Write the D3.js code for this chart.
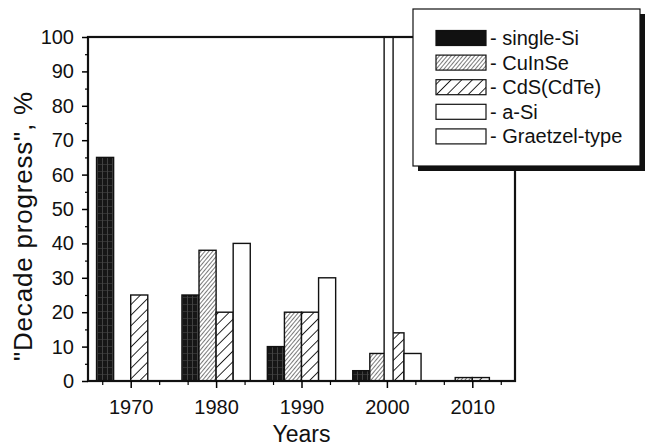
<!DOCTYPE html>
<html>
<head>
<meta charset="utf-8">
<script src="https://cdn.jsdelivr.net/npm/d3@7"></script>
<style>
  body { margin: 0; background: #fff; }
  svg { font-family: "Liberation Sans", Arial, sans-serif; }
</style>
</head>
<body>
<div id="chart"></div>
<script>
// values, one entry per decade
const decades = [1970, 1980, 1990, 2000, 2010];
const singleSi = [65, 25, 10, 3, 0];
const cuInSe = [0, 38, 20, 8, 1];
const cdS = [25, 20, 20, 14, 1];
const aSi = [0, 40, 30, 8, 0];
const graetzel = [0, 0, 0, 100, 0];
const seriesNames = ["single-Si", "CuInSe", "CdS(CdTe)", "a-Si", "Graetzel-type"];
const yTicks = [0, 10, 20, 30, 40, 50, 60, 70, 80, 90, 100];

const width = 647, height = 447;
const plotLeft = 88, plotRight = 515, plotTop = 37, plotBottom = 381;

const svg = d3.select("#chart").append("svg")
  .attr("width", width).attr("height", height);

// patterns for the fills
const defs = svg.append("defs");

let pSi = defs.append("pattern").attr("id", "pSi")
  .attr("patternUnits", "userSpaceOnUse").attr("width", 5).attr("height", 7);
pSi.append("rect").attr("width", 5).attr("height", 7).attr("fill", "#161616");
pSi.append("line").attr("x1", 2.5).attr("x2", 2.5).attr("y1", 0).attr("y2", 7)
  .attr("stroke", "#555").attr("stroke-width", 0.7);
pSi.append("line").attr("x1", 0).attr("x2", 5).attr("y1", 3.5).attr("y2", 3.5)
  .attr("stroke", "#444").attr("stroke-width", 0.6);

let pCu = defs.append("pattern").attr("id", "pCu")
  .attr("patternUnits", "userSpaceOnUse").attr("width", 3).attr("height", 3)
  .attr("patternTransform", "rotate(40)");
pCu.append("rect").attr("width", 3).attr("height", 3).attr("fill", "#fff");
pCu.append("line").attr("x1", 0).attr("x2", 0).attr("y1", 0).attr("y2", 3)
  .attr("stroke", "#333").attr("stroke-width", 1.3);

let pCd = defs.append("pattern").attr("id", "pCd")
  .attr("patternUnits", "userSpaceOnUse").attr("width", 7.5).attr("height", 7.5)
  .attr("patternTransform", "rotate(45)");
pCd.append("rect").attr("width", 7.5).attr("height", 7.5).attr("fill", "#fff");
pCd.append("line").attr("x1", 0).attr("x2", 0).attr("y1", 0).attr("y2", 7.5)
  .attr("stroke", "#111").attr("stroke-width", 1.8);

const fills = ["url(#pSi)", "url(#pCu)", "url(#pCd)", "#fff", "#fff"];
const legendFills = ["#111", "url(#pCu)", "url(#pCd)", "#fff", "#fff"];
// position of each series inside a decade group (in years)
const offsets = [-3, -1, 1, 3, 0.2];
const barWidths = [2, 2, 2, 2, 1.05];

const x = d3.scaleLinear().domain([1965, 2015]).range([plotLeft, plotRight]);
const y = d3.scaleLinear().domain([0, 100]).range([plotBottom, plotTop]);

const allSeries = [singleSi, cuInSe, cdS, aSi, graetzel];

allSeries.forEach((vals, i) => {
  let bars = decades.map((d, j) => ({ year: d, value: vals[j] })).filter(d => d.value > 0);
  svg.append("g").selectAll("rect").data(bars).join("rect")
    .attr("x", d => x(d.year + offsets[i] - barWidths[i] / 2))
    .attr("width", d => x(d.year + offsets[i] + barWidths[i] / 2) - x(d.year + offsets[i] - barWidths[i] / 2))
    .attr("y", d => y(d.value))
    .attr("height", d => y(0) - y(d.value))
    .attr("fill", fills[i])
    .attr("stroke", "#111")
    .attr("stroke-width", 1.4);
});

// frame
svg.append("rect").attr("x", plotLeft).attr("y", plotTop)
  .attr("width", plotRight - plotLeft).attr("height", plotBottom - plotTop)
  .attr("fill", "none").attr("stroke", "#111").attr("stroke-width", 2.2);

// y axis
let yAxis = svg.append("g").attr("transform", `translate(${plotLeft},0)`)
  .call(d3.axisLeft(y).tickValues(yTicks).tickSize(6).tickPadding(8));
yAxis.select(".domain").remove();
yAxis.selectAll("text").attr("font-size", 20).attr("fill", "#111");
yAxis.selectAll("line").attr("stroke-width", 1.5);

let yMinor = svg.append("g").attr("transform", `translate(${plotLeft},0)`)
  .call(d3.axisLeft(y).tickValues(d3.range(5, 100, 10)).tickSize(3).tickFormat(""));
yMinor.select(".domain").remove();
yMinor.selectAll("line").attr("stroke-width", 1.2);

// x axis
let xAxis = svg.append("g").attr("transform", `translate(0,${plotBottom})`)
  .call(d3.axisBottom(x).tickValues(decades).tickSize(7).tickPadding(12).tickFormat(d3.format("d")));
xAxis.select(".domain").remove();
xAxis.selectAll("text").attr("font-size", 20).attr("fill", "#111");
xAxis.selectAll("line").attr("stroke-width", 1.5);

let minorYears = d3.range(1965 + 5 / 3, 2015, 10 / 3).filter(v => Math.abs(v - Math.round(v / 10) * 10) > 0.5);
let xMinor = svg.append("g").attr("transform", `translate(0,${plotBottom})`)
  .call(d3.axisBottom(x).tickValues(minorYears).tickSize(4).tickFormat(""));
xMinor.select(".domain").remove();
xMinor.selectAll("line").attr("stroke-width", 1.2);

// axis titles
svg.append("text").attr("x", (plotLeft + plotRight) / 2).attr("y", 442)
  .attr("text-anchor", "middle").attr("font-size", 23).attr("fill", "#111")
  .text("Years");

svg.append("text").attr("transform", "translate(32,226) rotate(-90)")
  .attr("text-anchor", "middle").attr("font-size", 26).attr("letter-spacing", 0.8)
  .attr("fill", "#111")
  .text("\"Decade progress\", %");

// legend with shadow
const lg = svg.append("g");
lg.append("rect").attr("x", 418).attr("y", 14).attr("width", 227).attr("height", 157).attr("fill", "#111");
lg.append("rect").attr("x", 413).attr("y", 9).attr("width", 227).attr("height", 157)
  .attr("fill", "#fff").attr("stroke", "#111").attr("stroke-width", 1.2);

seriesNames.forEach((name, i) => {
  let cy = 38 + i * 24.6;
  lg.append("rect").attr("x", 436).attr("y", cy - 7.5).attr("width", 50).attr("height", 15)
    .attr("fill", legendFills[i]).attr("stroke", "#111").attr("stroke-width", 1.2);
  lg.append("text").attr("x", 490).attr("y", cy).attr("dy", "0.35em")
    .attr("font-size", 20).attr("fill", "#111").text("- " + name);
});
</script>
</body>
</html>
